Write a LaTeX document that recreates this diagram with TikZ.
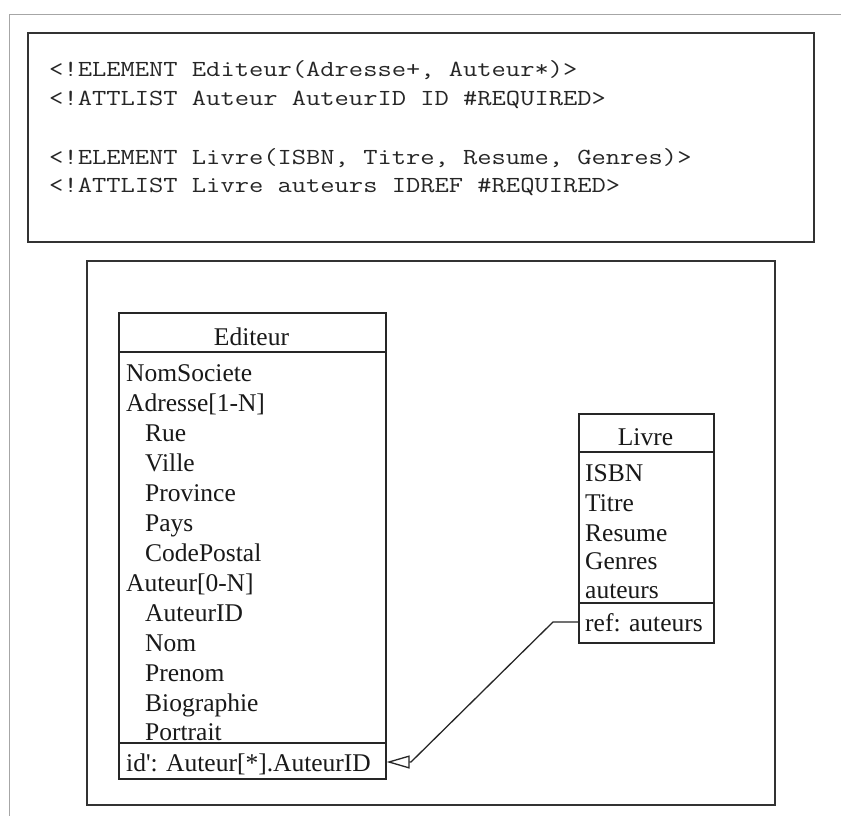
\documentclass[tikz,border=0pt]{standalone}
\usepackage{fontspec}
\setmainfont{Liberation Serif}
\usetikzlibrary{arrows.meta}

\tikzset{
  frame/.style={draw=black!80, line width=1.5pt},
  table/.style={draw=black!85, line width=1.6pt, anchor=north west, inner sep=0pt},
  rule/.style={draw=black!85, line width=1.6pt},
  dtd/.style={anchor=base west, inner sep=0pt, text=black!85, xscale=1.205,
              transform shape, font=\ttfamily\fontsize{23}{28}\selectfont},
  field/.style={anchor=base west, inner sep=0pt, text=black!90,
                font=\fontsize{25.5}{30}\selectfont},
  title/.style={anchor=base, inner sep=0pt, text=black!90,
                font=\fontsize{25.5}{30}\selectfont},
  link/.style={draw=black!85, line width=1.3pt},
}

\begin{document}
\begin{tikzpicture}[x=1pt, y=-1pt]
  \useasboundingbox (0,0) rectangle (841,816);
  \fill[white] (0,0) rectangle (841,816);

  % page border
  \draw[black!35, line width=1pt] (9,816) -- (9,15) -- (841,15);

  % DTD declarations
  \draw[frame] (28,33) rectangle (814,242);
  \node[dtd] (d1) at (49,77)  {<!ELEMENT Editeur(Adresse+, Auteur*)>};
  \node[dtd] (d2) at (49,105) {<!ATTLIST Auteur AuteurID ID \#REQUIRED>};
  \node[dtd] (d3) at (49,164) {<!ELEMENT Livre(ISBN, Titre, Resume, Genres)>};
  \node[dtd] (d4) at (49,192) {<!ATTLIST Livre auteurs IDREF \#REQUIRED>};

  % schema frame
  \draw[frame] (87,261) rectangle (775,805);

  % Editeur table
  \node[table, minimum width=267pt, minimum height=466pt] (edit) at (118,312) {};
  \draw[rule] (118,352) -- (387,352);
  \draw[rule] (118,743) -- (387,743);
  \node[title] (et) at (251.5,345) {Editeur};
  \node[field] (e1)  at (126,381) {NomSociete};
  \node[field] (e2)  at (126,411) {Adresse[1-N]};
  \node[field] (e3)  at (145,441) {Rue};
  \node[field] (e4)  at (145,471) {Ville};
  \node[field] (e5)  at (145,501) {Province};
  \node[field] (e6)  at (145,531) {Pays};
  \node[field] (e7)  at (145,561) {CodePostal};
  \node[field] (e8)  at (126,591) {Auteur[0-N]};
  \node[field] (e9)  at (145,621) {AuteurID};
  \node[field] (e10) at (145,651) {Nom};
  \node[field] (e11) at (145,681) {Prenom};
  \node[field] (e12) at (145,711) {Biographie};
  \node[field] (e13) at (145,740) {Portrait};
  \node[field] (eid) at (126,771) {id\textquotesingle: Auteur[*].AuteurID};

  % Livre table
  \node[table, minimum width=135pt, minimum height=229pt] (livre) at (578,413) {};
  \draw[rule] (578,452) -- (714,452);
  \draw[rule] (578,603) -- (714,603);
  \node[title] (lt) at (645.5,445) {Livre};
  \node[field] (l1) at (585,481) {ISBN};
  \node[field] (l2) at (585,511) {Titre};
  \node[field] (l3) at (585,541) {Resume};
  \node[field] (l4) at (585,569) {Genres};
  \node[field] (l5) at (585,598) {auteurs};
  \node[field] (lref) at (585,631) {ref: auteurs};

  % reference from Livre.auteurs to the Auteur identifier
  \coordinate (src) at (livre.west |- 0,622);
  \coordinate (dst) at (edit.east |- 0,762);
  \coordinate (bend) at (553,622);
  \coordinate (foot) at (411,762);
  \draw[link, -{Triangle[open, length=23pt, width=13pt, line width=1.3pt]}]
    (src) -- (bend) -- (foot) -- (dst);
\end{tikzpicture}
\end{document}
